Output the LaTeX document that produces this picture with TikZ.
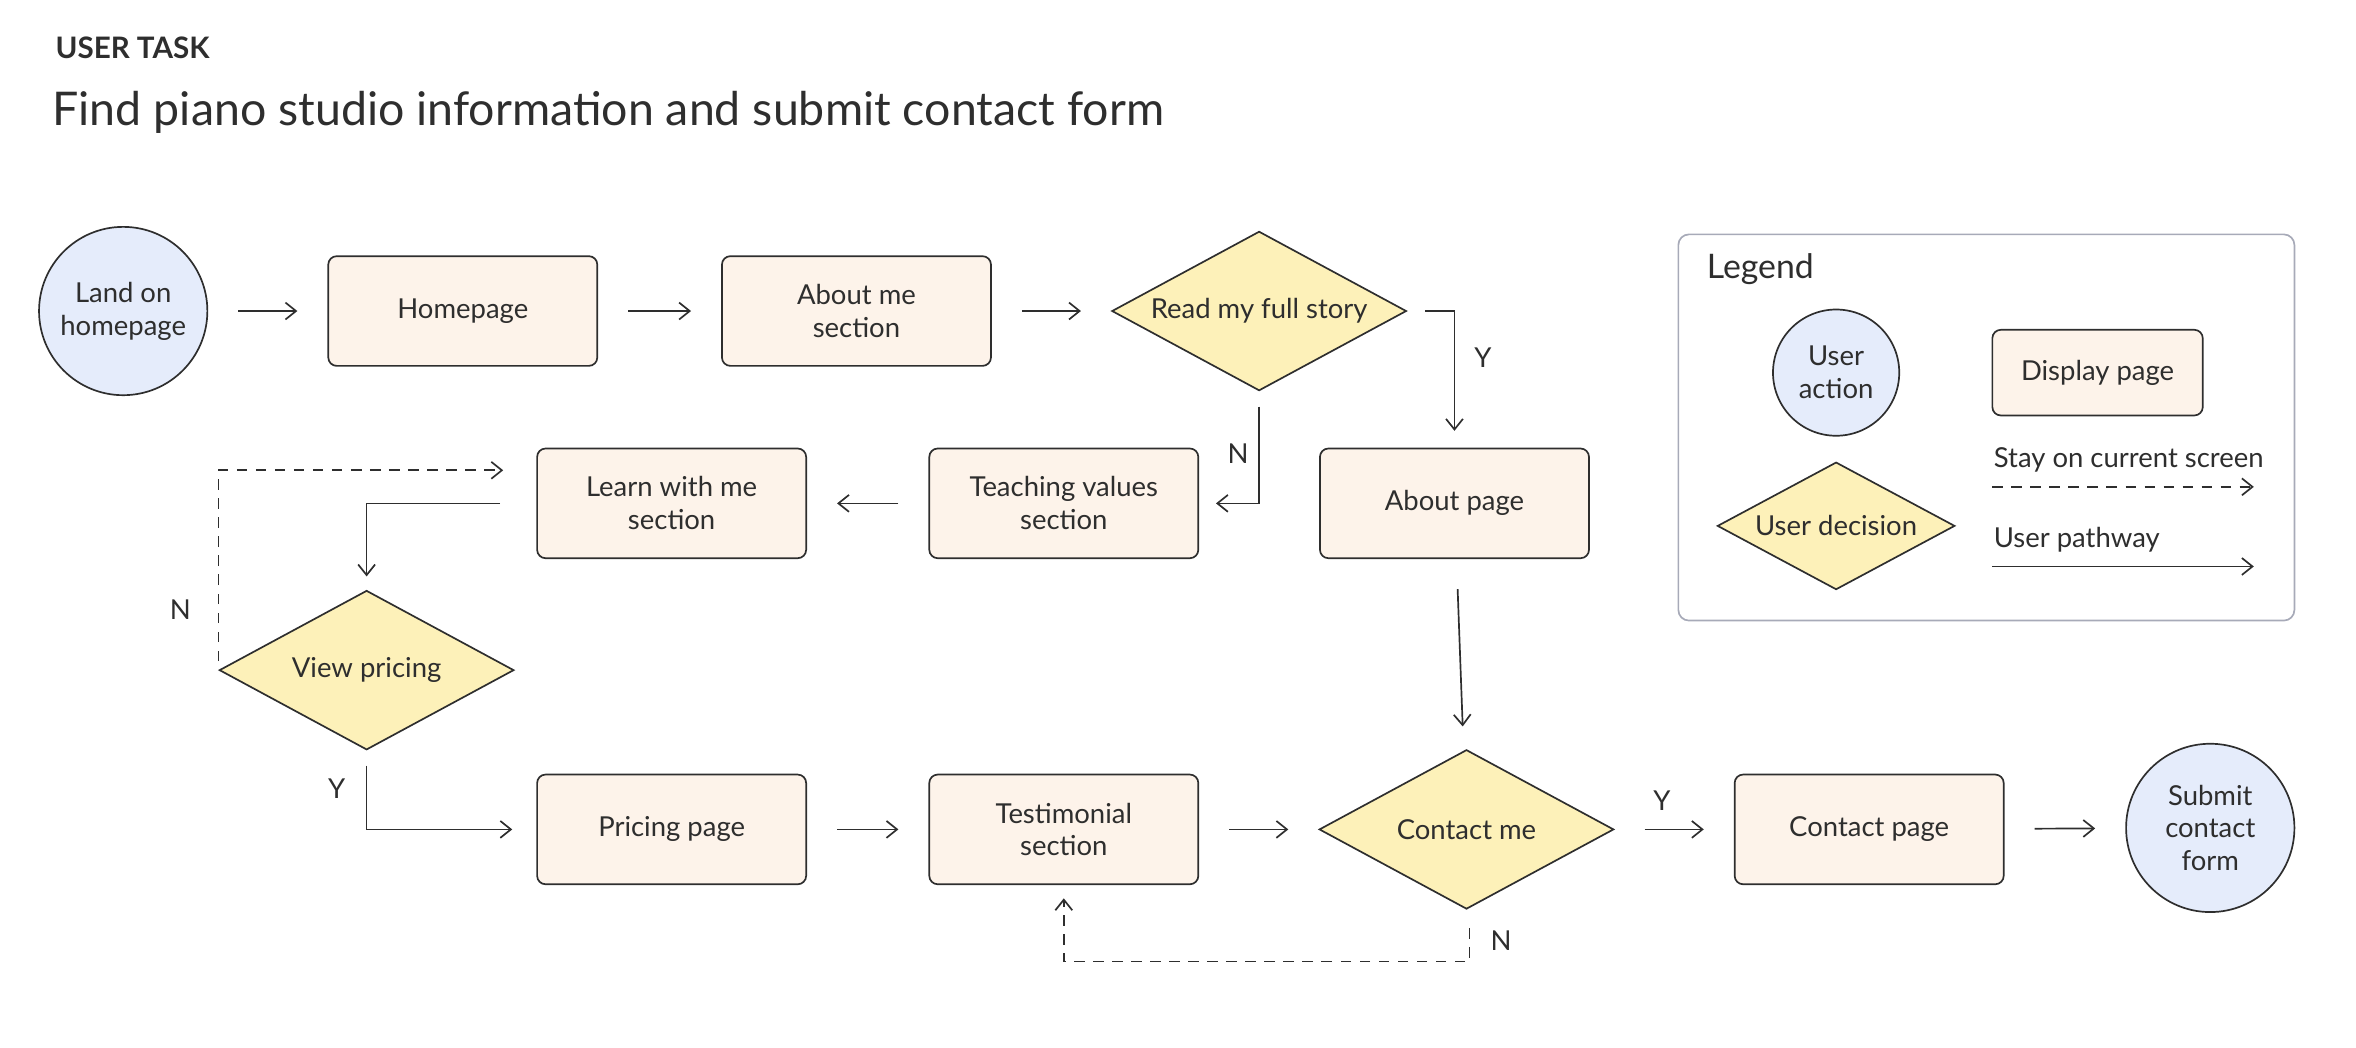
\documentclass[tikz,border=0pt]{standalone}
\usepackage{fontspec}
\setmainfont{Lato}
\usetikzlibrary{shapes.geometric}
\usetikzlibrary{arrows.meta}
\usetikzlibrary{positioning}
\usetikzlibrary{calc}
\definecolor{actionfill}{HTML}{E5ECFB}
\definecolor{pagefill}{HTML}{FDF3EA}
\definecolor{decisionfill}{HTML}{FDF1B9}
\definecolor{ink}{HTML}{2E2E2E}
\definecolor{legendline}{HTML}{A7AAB8}

\begin{document}
\begin{tikzpicture}[x={(0.025cm,0)}, y={(0,-0.025cm)},
  every node/.style={text=ink, font=\fontsize{13}{15.5}\selectfont, align=center},
  action/.style={circle, draw=ink, fill=actionfill, line width=0.8pt, minimum size=2.8cm, inner sep=0pt},
  page/.style={rectangle, rounded corners=4pt, draw=ink, fill=pagefill, line width=0.8pt, minimum width=4.475cm, minimum height=1.825cm},
  decision/.style={diamond, aspect=1.85, draw=ink, fill=decisionfill, line width=0.8pt, minimum width=4.9cm, minimum height=2.65cm, inner sep=0pt},
  flow/.style={draw=ink, line width=0.8pt, -{Straight Barb[length=5pt,width=8pt]}},
  gap/.style={shorten <=#1, shorten >=#1},
  stay/.style={flow, dashed, dash pattern=on 5pt off 4pt}
]
  \useasboundingbox (0,0) rectangle (1568,697);

  % heading
  \node[anchor=west, font=\fontsize{14}{16}\selectfont\bfseries] (task) at (32,32) {USER TASK};
  \node[anchor=west, font=\fontsize{22}{26}\selectfont] (title) at (30,75) {Find piano studio information and submit contact form};

  % top row
  \node[action] (land) at (82,207) {Land on\\homepage};
  \node[page] (home) at (308,207) {Homepage};
  \node[page] (aboutme) at (570,207) {About me\\section};
  \node[decision] (story) at (838,207) {Read my full story};

  % middle row
  \node[page] (aboutpage) at (968,335) {About page};
  \node[page] (teaching) at (708,335) {Teaching values\\section};
  \node[page] (learn) at (447,335) {Learn with me\\section};
  \node[decision] (pricing) at (244,446) {View pricing};

  % bottom row
  \node[page] (pricepage) at (447,552) {Pricing page};
  \node[page] (testimonial) at (708,552) {Testimonial\\section};
  \node[decision] (contact) at (976,552) {Contact me};
  \node[page] (contactpage) at (1244,552) {Contact page};
  \node[action] (submit) at (1471,551) {Submit\\contact\\form};

  % connectors
  \draw[flow, gap=0.5cm] (land) -- (home);
  \draw[flow, gap=0.5cm] (home) -- (aboutme);
  \draw[flow, gap=0.5cm] (aboutme) -- (story);
  \draw[flow, shorten <=0.3cm, shorten >=0.28cm] (story.east) -| (aboutpage.north);
  \node (ystory) at (987,238) {Y};
  \draw[flow, shorten <=0.25cm, shorten >=0.28cm] (story.south) |- (teaching.east);
  \node (nstory) at (824,302) {N};
  \draw[flow, gap=0.5cm] (teaching) -- (learn);
  \draw[flow, shorten <=0.6cm, shorten >=0.22cm] (learn.west) -| (pricing.north);
  \draw[stay, shorten <=0.15cm, shorten >=0.55cm] (pricing.west) |- ($(learn.west)+(0,-22)$);
  \node (npricing) at (120,406) {N};
  \draw[flow, shorten <=0.25cm, shorten >=0.4cm] (pricing.south) |- (pricepage.west);
  \node (ypricing) at (224,525) {Y};
  \draw[flow, gap=0.5cm] (pricepage) -- (testimonial);
  \draw[flow, gap=0.5cm] (testimonial) -- (contact);
  \draw[flow, shorten <=0.5cm, shorten >=0.4cm] (aboutpage) -- (contact);
  \draw[flow, gap=0.5cm] (contact) -- (contactpage);
  \node (ycontact) at (1106,533) {Y};
  \draw[flow, gap=0.5cm] (contactpage) -- (submit);
  \draw[stay, shorten <=0.3cm, shorten >=0.22cm] ($(contact.south)+(2,0)$) |- (842,640) -| (testimonial.south);
  \node (ncontact) at (999,626) {N};

  % legend
  \draw[legendline, line width=0.8pt, rounded corners=5pt] (1117,156) rectangle (1527,413);
  \node[anchor=west, font=\fontsize{16}{19}\selectfont] (legend) at (1131,179) {Legend};
  \node[action, minimum size=2.1cm] (keyaction) at (1222,248) {User\\action};
  \node[page, minimum width=3.5cm, minimum height=1.425cm] (keypage) at (1396,248) {Display page};
  \node[decision, minimum width=3.95cm, minimum height=2.12cm] (keydecision) at (1222,350) {User decision};
  \node[anchor=west] (staytext) at (1322,306) {Stay on current screen};
  \coordinate (staya) at (1326,324);
  \coordinate (stayb) at (1500,324);
  \draw[stay] (staya) -- (stayb);
  \node[anchor=west] (pathtext) at (1322,359) {User pathway};
  \coordinate (patha) at (1326,377);
  \coordinate (pathb) at (1500,377);
  \draw[flow] (patha) -- (pathb);
\end{tikzpicture}
\end{document}
